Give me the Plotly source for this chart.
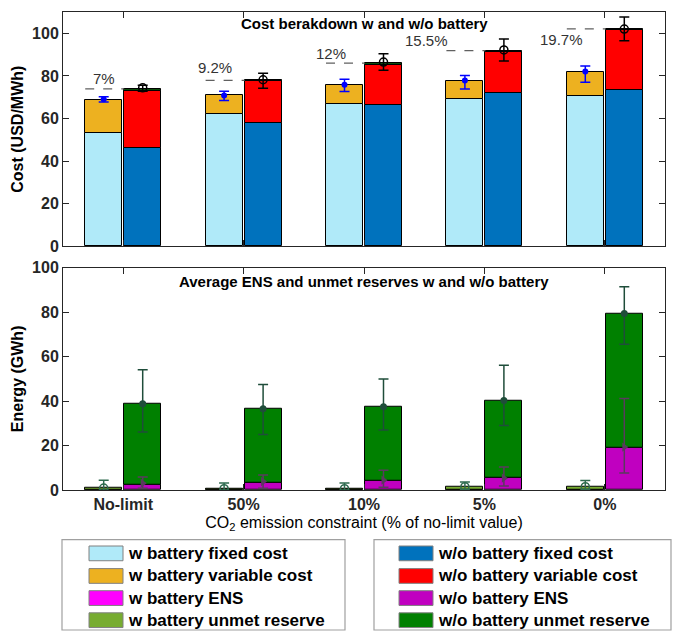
import plotly.graph_objects as go

categories = ["No-limit", "50%", "10%", "5%", "0%"]

# top panel: cost breakdown (USD/MWh)
w_fixed = [53.4, 62.0, 67.0, 69.3, 70.5]
w_variable = [15.5, 8.9, 8.8, 8.3, 11.3]
wo_fixed = [46.1, 58.1, 66.3, 72.0, 73.3]
wo_variable = [27.0, 19.5, 18.7, 19.4, 28.2]
wo_other = [0.8, 0.3, 1.0, 0.5, 0.6]

w_cost_mean = [69.0, 70.8, 75.8, 77.8, 82.1]
w_cost_up = [1.2, 2.0, 2.6, 2.4, 2.6]
w_cost_down = [1.3, 2.3, 3.1, 4.0, 5.1]
wo_cost_mean = [74.4, 78.2, 86.5, 92.2, 102.0]
wo_cost_up = [1.2, 3.1, 3.9, 5.1, 5.7]
wo_cost_down = [1.6, 4.0, 3.8, 5.2, 5.5]
increase_labels = ["7%", "9.2%", "12%", "15.5%", "19.7%"]

# bottom panel: ENS and unmet reserve (GWh)
w_ens = [0.0, 0.0, 0.0, 0.0, 0.0]
w_reserve = [0.9, 0.6, 0.6, 1.5, 1.5]
wo_ens = [2.5, 3.4, 4.0, 5.3, 19.0]
wo_reserve = [36.3, 33.2, 33.5, 35.0, 60.2]

w_energy_mean = [0.9, 0.6, 0.6, 1.5, 1.5]
w_energy_up = [3.5, 2.6, 2.6, 2.1, 2.8]
w_energy_down = [0.9, 0.6, 0.6, 1.2, 1.2]
wo_energy_mean = [38.8, 36.6, 37.5, 40.3, 79.4]
wo_energy_up = [15.3, 10.9, 12.4, 15.8, 12.1]
wo_energy_down = [12.7, 11.6, 10.5, 11.3, 13.8]
wo_ens_mean = [3.0, 3.8, 4.4, 5.3, 19.3]
wo_ens_up = [2.8, 3.0, 4.5, 5.1, 21.9]
wo_ens_down = [2.2, 3.0, 3.2, 3.5, 11.7]

FONT = "Liberation Sans, Arial"
W, H = 683, 637
L, R, T, B = 63, 18, 4, 146.5

pos = list(range(1, len(categories) + 1))
off, bw = 0.162, 0.307
xw = [p - off for p in pos]
xo = [p + off for p in pos]
edge = dict(color="black", width=1)

fig = go.Figure()


def bar(x, y, color, yaxis):
    fig.add_trace(go.Bar(x=x, y=y, width=bw, marker=dict(color=color, line=edge),
                         xaxis="x" if yaxis == "y" else "x2", yaxis=yaxis,
                         showlegend=False, hoverinfo="y"))


# top stacked bars
bar(xw, w_fixed, "#B0EAF9", "y")
bar(xw, w_variable, "#EDB120", "y")
bar(xo, wo_fixed, "#0072BD", "y")
bar(xo, wo_variable, "#FF0000", "y")
bar(xo, wo_other, "#0B4D0B", "y")

# dashed reference lines at the w/o battery total
wo_total = [a + b + c for a, b, c in zip(wo_fixed, wo_variable, wo_other)]
dx, dy = [], []
for p, t in zip(pos, wo_total):
    dx += [p - off - bw / 2, p + off - bw / 2, None]
    dy += [t, t, None]
fig.add_trace(go.Scatter(x=dx, y=dy, mode="lines", line=dict(color="#606060", width=1.2, dash="dash"),
                         showlegend=False, hoverinfo="skip"))

# top error bars
fig.add_trace(go.Scatter(x=xw, y=w_cost_mean, mode="markers", showlegend=False,
                         marker=dict(color="#0000FF", size=6),
                         error_y=dict(type="data", array=w_cost_up, arrayminus=w_cost_down,
                                      color="#0000FF", thickness=1.5, width=5)))
fig.add_trace(go.Scatter(x=xo, y=wo_cost_mean, mode="markers", showlegend=False,
                         marker=dict(color="rgba(0,0,0,0)", size=8, line=dict(color="black", width=1.5)),
                         error_y=dict(type="data", array=wo_cost_up, arrayminus=wo_cost_down,
                                      color="black", thickness=1.5, width=5)))

# bottom stacked bars
bar(xw, w_ens, "#FF00FF", "y2")
bar(xw, w_reserve, "#77AC30", "y2")
bar(xo, wo_ens, "#C000C0", "y2")
bar(xo, wo_reserve, "#008000", "y2")

# bottom error bars
fig.add_trace(go.Scatter(x=xw, y=w_energy_mean, mode="markers", xaxis="x2", yaxis="y2", showlegend=False,
                         marker=dict(color="rgba(0,0,0,0)", size=8, line=dict(color="#2E6B4F", width=1.5)),
                         error_y=dict(type="data", array=w_energy_up, arrayminus=w_energy_down,
                                      color="#2E6B4F", thickness=1.5, width=5)))
fig.add_trace(go.Scatter(x=xo, y=wo_ens_mean, mode="markers", xaxis="x2", yaxis="y2", showlegend=False,
                         marker=dict(color="#5A3A5E", size=8, symbol="triangle-right"),
                         error_y=dict(type="data", array=wo_ens_up, arrayminus=wo_ens_down,
                                      color="#5A3A5E", thickness=1.5, width=5)))
fig.add_trace(go.Scatter(x=xo, y=wo_energy_mean, mode="markers", xaxis="x2", yaxis="y2", showlegend=False,
                         marker=dict(color="#1F4D3A", size=7),
                         error_y=dict(type="data", array=wo_energy_up, arrayminus=wo_energy_down,
                                      color="#1F4D3A", thickness=1.5, width=5)))

# percentage labels over the dashed lines
label_dx = [-0.16, -0.24, -0.27, -0.48, -0.36]
label_dy = [4.9, 6.0, 4.3, 4.6, -4.8]
for p, t, txt, ddx, ddy in zip(pos, wo_total, increase_labels, label_dx, label_dy):
    fig.add_annotation(x=p + ddx, y=t + ddy, text=txt, showarrow=False, xref="x", yref="y",
                       font=dict(family=FONT, size=15, color="#333333"))

fig.add_annotation(x=0.5, y=104.5, xref="x domain", yref="y", text="<b>Cost berakdown w and w/o battery</b>",
                   showarrow=False, font=dict(family=FONT, size=15, color="black"))
fig.add_annotation(x=0.5, y=94, xref="x2 domain", yref="y2",
                   text="<b>Average ENS and unmet reserves w and w/o battery</b>",
                   showarrow=False, font=dict(family=FONT, size=15, color="black"))

axis_common = dict(showline=True, linecolor="#262626", linewidth=1, mirror="ticks", ticks="inside",
                   ticklen=6, tickcolor="#262626", showgrid=False, zeroline=False,
                   tickfont=dict(family=FONT, size=16, color="#262626"))
xcommon = dict(axis_common, range=[0.5, 5.5], tickvals=pos, ticktext=[f"<b>{c}</b>" for c in categories])

plot_h = H - T - B
fig.update_layout(
    width=W, height=H,
    margin=dict(l=L, r=R, t=T, b=B),
    paper_bgcolor="white", plot_bgcolor="white",
    barmode="relative", bargap=0,
    font=dict(family=FONT, color="black"),
    xaxis=dict(xcommon, domain=[0, 1], anchor="y", showticklabels=False),
    yaxis=dict(axis_common, domain=[1 - 238.5 / plot_h, 1], anchor="x", range=[0, 110], dtick=20,
               tickprefix="<b>", ticksuffix="</b>",
               title=dict(text="<b>Cost (USD/MWh)</b>", font=dict(family=FONT, size=16), standoff=4)),
    xaxis2=dict(xcommon, domain=[0, 1], anchor="y2",
                title=dict(text="CO<sub>2</sub> emission constraint (% of no-limit value)",
                           font=dict(family=FONT, size=16), standoff=4)),
    yaxis2=dict(axis_common, domain=[0, 1 - 260.3 / plot_h], anchor="x2", range=[0, 100], dtick=20,
                tickprefix="<b>", ticksuffix="</b>",
                title=dict(text="<b>Energy (GWh)</b>", font=dict(family=FONT, size=16), standoff=4)),
)


# legend boxes drawn in pixel positions below the plots
def px(x):
    return (x - L) / (W - L - R)


def py(y):
    return (H - B - y) / plot_h


legend_groups = [
    (62, 345, 89, [("w battery fixed cost", "#B0EAF9"), ("w battery variable cost", "#EDB120"),
                   ("w battery ENS", "#FF00FF"), ("w battery unmet reserve", "#77AC30")]),
    (374, 671, 399, [("w/o battery fixed cost", "#0072BD"), ("w/o battery variable cost", "#FF0000"),
                     ("w/o battery ENS", "#C000C0"), ("w/o battery unmet reserve", "#008000")]),
]
row_y = [555, 578, 600.5, 623]
for x0, x1, sx, items in legend_groups:
    fig.add_shape(type="rect", xref="paper", yref="paper", x0=px(x0), x1=px(x1), y0=py(633), y1=py(541),
                  line=dict(color="#A0A0A0", width=1.2), fillcolor="white")
    for (name, color), ry in zip(items, row_y):
        fig.add_shape(type="rect", xref="paper", yref="paper", x0=px(sx), x1=px(sx + 34),
                      y0=py(ry + 7.5), y1=py(ry - 7.5), line=dict(color="#808080", width=1), fillcolor=color)
        fig.add_annotation(x=px(sx + 37), y=py(ry), xref="paper", yref="paper", text=f"<b>{name}</b>",
                           showarrow=False, xanchor="left", yanchor="middle",
                           font=dict(family=FONT, size=17, color="black"))

# the page body has a default 8px margin; drop it so the figure sits at the window origin
fig.write_html("out.html", config={"displayModeBar": False},
               post_script="document.body.style.margin = '0px';")
